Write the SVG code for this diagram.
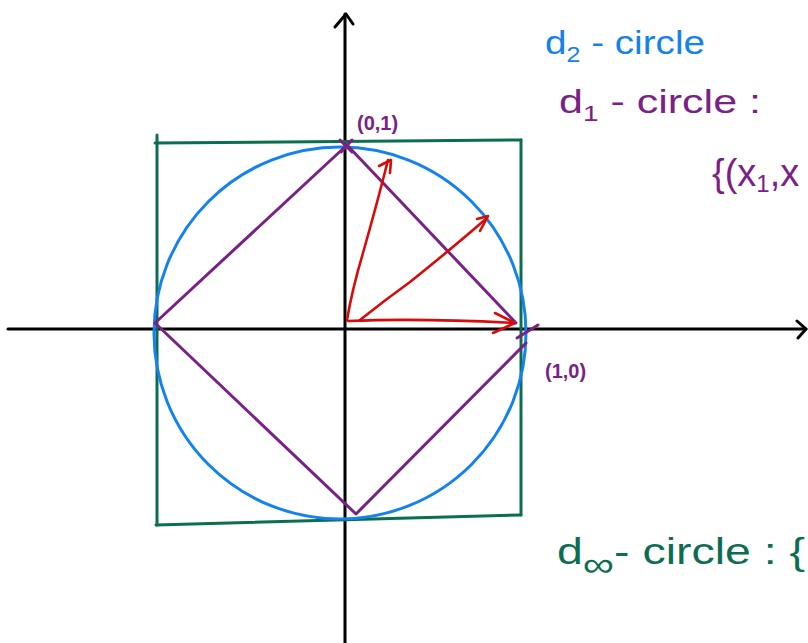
<svg xmlns="http://www.w3.org/2000/svg" width="808" height="643" viewBox="0 0 808 643">
<style>
.ax{fill:none;stroke:#000;stroke-width:3;stroke-linecap:round;stroke-linejoin:round}
.blue{fill:none;stroke:#1482ee;stroke-width:3}
.green{fill:none;stroke:#0c6e50;stroke-width:3;stroke-linecap:round;stroke-linejoin:round}
.purple{fill:none;stroke:#7a2187;stroke-width:3;stroke-linecap:round;stroke-linejoin:round}
.red{fill:none;stroke:#d80a0a;stroke-width:2.6;stroke-linecap:round;stroke-linejoin:round}
text{font-family:"Liberation Sans","DejaVu Sans",sans-serif}
.tb{fill:#1482ee}
.tp{fill:#7a2187}
.tg{fill:#0c6e50}
</style>
<rect width="808" height="643" fill="#fff"/>
<g id="axes">
<line class="ax" x1="345" y1="14" x2="345" y2="643"/>
<polyline class="ax" points="335,27 346,14 353,24"/>
<line class="ax" x1="8" y1="329" x2="806" y2="329"/>
<polyline class="ax" points="797,321 806,329 798,338"/>
</g>
<g id="d-infinity-square">
<line class="green" x1="155" y1="143" x2="521" y2="140"/>
<line class="green" x1="157" y1="135" x2="157" y2="525"/>
<line class="green" x1="521" y1="140" x2="521" y2="515"/>
<line class="green" x1="156" y1="525" x2="521" y2="515"/>
</g>
<g id="d2-circle">
<ellipse class="blue" cx="340" cy="333" rx="186" ry="186"/>
</g>
<g id="d1-diamond">
<polyline class="purple" points="516,323 347,145 155,323 356,514 526,343"/>
<line class="purple" x1="340" y1="140" x2="352" y2="152"/>
<line class="purple" x1="352" y1="140" x2="341" y2="152"/>
<line class="purple" x1="517" y1="338" x2="538" y2="325"/>
</g>
<g id="vectors">
<path class="red" d="M347,320 Q352,290 363,253 Q378,200 388,160"/>
<polyline class="red" points="379,166 391,160 390,173"/>
<path class="red" d="M360,320 Q385,300 410,282 Q450,250 487,218"/>
<polyline class="red" points="477,219 488,216 480,231"/>
<path class="red" d="M348,321 Q420,318 515,323"/>
<polyline class="red" points="495,313 515,323 493,333"/>
</g>
<g id="labels">
<text class="tb" x="545" y="54" font-size="34" textLength="160" lengthAdjust="spacingAndGlyphs">d<tspan font-size="22" dy="8">2</tspan><tspan dy="-8"> - circle</tspan></text>
<text class="tp" x="559" y="113" font-size="34" textLength="202" lengthAdjust="spacingAndGlyphs">d<tspan font-size="22" dy="8">1</tspan><tspan dy="-8"> - circle  :</tspan></text>
<text class="tp" x="712" y="186" font-size="38">{(x<tspan font-size="24" dy="6">1</tspan><tspan dy="-6">,x</tspan></text>
<text class="tp" x="357" y="130" font-size="20" font-weight="bold">(0,1)</text>
<text class="tp" x="545" y="378" font-size="20" font-weight="bold">(1,0)</text>
<text class="tg" x="557" y="564" font-size="36" textLength="248" lengthAdjust="spacingAndGlyphs">d<tspan font-size="34" dy="12">∞</tspan><tspan dy="-12">- circle  :  {</tspan></text>
</g>
</svg>
